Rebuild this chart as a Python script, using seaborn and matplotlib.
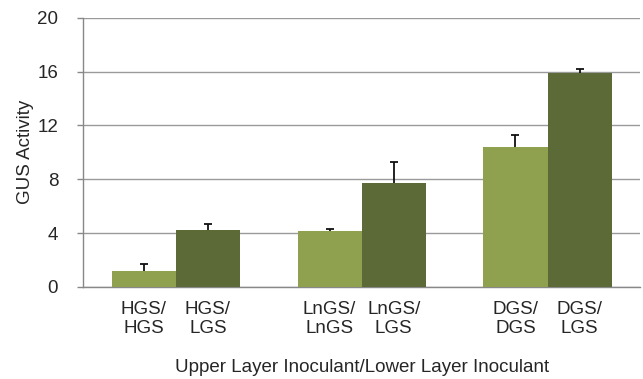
import numpy as np
import pandas as pd
import matplotlib
matplotlib.use("Agg")
import matplotlib.pyplot as plt
import seaborn as sns

# data
groups = ['HGS', 'LnGS', 'DGS']
lower = ['same', 'LGS']
tick_labels = ['HGS/\nHGS', 'HGS/\nLGS', 'LnGS/\nLnGS', 'LnGS/\nLGS', 'DGS/\nDGS', 'DGS/\nLGS']
vals_same = [1.2, 4.15, 10.4]
vals_lgs = [4.2, 7.75, 15.9]
err_same = [0.5, 0.15, 0.9]
err_lgs = [0.5, 1.5, 0.3]

df = pd.DataFrame({
    'group': groups * 2,
    'lower': ['same'] * 3 + ['LGS'] * 3,
    'GUS': vals_same + vals_lgs,
    'err': err_same + err_lgs,
})

sns.set_style('white')
plt.rcParams['font.family'] = ['Liberation Sans', 'DejaVu Sans']
fs = 13.5

fig = plt.figure(figsize=(6.43, 3.79), dpi=100)
ax = fig.add_axes([0.129, 0.243, 0.867, 0.71])

pal = {'same': '#8fa04f', 'LGS': '#5b6a37'}
sns.barplot(data=df, x='group', y='GUS', hue='lower', hue_order=lower,
            palette=pal, width=0.69, saturation=1, errorbar=None,
            legend=False, ax=ax, zorder=3, linewidth=0)

# error bars at bar centres
centers = []
for cont, errs, vals in zip(ax.containers, [err_same, err_lgs], [vals_same, vals_lgs]):
    for p, e, v in zip(cont, errs, vals):
        cx = p.get_x() + p.get_width() / 2
        centers.append(cx)
        ax.errorbar(cx, v, yerr=e, fmt='none', ecolor='#111111', elinewidth=1.3,
                    capsize=3, capthick=1.3, zorder=2)

centers = sorted(centers)
ax.set_xticks(centers)
ax.set_xticklabels(tick_labels, fontsize=fs, linespacing=1.15)
ax.tick_params(axis='x', length=0, pad=10)

ax.set_ylim(0, 20)
ax.set_yticks([0, 4, 8, 12, 16, 20])
ax.tick_params(axis='y', labelsize=fs, length=4.3, width=1, color='#888888', pad=13.5,
               direction='out', left=True)
ax.set_xlim(-0.5, 2.5)

ax.yaxis.grid(True, color='#9a9a9a', linewidth=1, zorder=0)
ax.set_axisbelow(True)
for s in ['top', 'right']:
    ax.spines[s].set_visible(False)
for s in ['left', 'bottom']:
    ax.spines[s].set_color('#888888')
    ax.spines[s].set_linewidth(1)

ax.set_ylabel('GUS Activity', fontsize=fs, labelpad=2)
ax.set_xlabel('Upper Layer Inoculant/Lower Layer Inoculant', fontsize=fs, labelpad=16)

plt.savefig('out.png', dpi=100)
